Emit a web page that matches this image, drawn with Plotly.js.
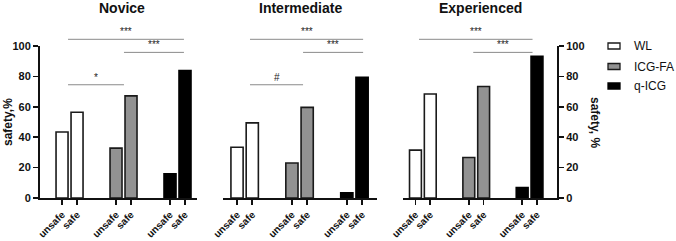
<!DOCTYPE html>
<html>
<head>
<meta charset="utf-8">
<script src="https://cdn.plot.ly/plotly-3.0.1.min.js"></script>
<style>html,body{margin:0;padding:0;background:#fff;}#chart{width:676px;height:241px;}</style>
</head>
<body>
<div id="chart"></div>
<script>
// ---- data ----
var panels = ['Novice', 'Intermediate', 'Experienced'];
var categories = ['unsafe', 'safe'];
var series = ['WL', 'ICG-FA', 'q-ICG'];

var noviceWL = [43.4, 56.4];
var noviceICGFA = [32.8, 67.2];
var noviceQICG = [16.0, 83.8];

var intermediateWL = [33.4, 49.4];
var intermediateICGFA = [23.0, 59.6];
var intermediateQICG = [3.5, 79.4];

var experiencedWL = [31.5, 68.4];
var experiencedICGFA = [26.6, 73.4];
var experiencedQICG = [6.8, 93.3];

var yTicks = [0, 20, 40, 60, 80, 100];
var sigLabelsNovice = ['***', '***', '*'];
var sigLabelsIntermediate = ['***', '***', '#'];
var sigLabelsExperienced = ['***', '***'];

// ---- layout helpers ----
var W = 676, H = 241;
var yBot = (H - 198) / H, yTop = (H - 46) / H;
var groupPos = [[0, 1], [3.6, 4.6], [7.2, 8.2]];
var barW = 0.8;
var seriesData = [
  [noviceWL, noviceICGFA, noviceQICG],
  [intermediateWL, intermediateICGFA, intermediateQICG],
  [experiencedWL, experiencedICGFA, experiencedQICG]
];
var fills = ['#ffffff', '#929292', '#000000'];
var lineCols = ['#1a1a1a', '#1a1a1a', '#000000'];
var xDomains = [[40 / W, 197 / W], [223 / W, 377 / W], [403 / W, 557 / W]];
var xRanges = [[-1.47, 9.0], [-0.92, 9.18], [-0.84, 9.55]];
var bracketLevels = [104.4, 95.8, 74.5];
var bracketSpans = [
  [[0.4, 8.13], [4.13, 8.13], [0.4, 4.13]],
  [[0.85, 8.27], [4.33, 8.27], [0.85, 4.33]],
  [[0.24, 7.9], [3.9, 7.9]]
];
var sigLabels = [sigLabelsNovice, sigLabelsIntermediate, sigLabelsExperienced];
var titleX = [121.7, 300.3, 480];
var font = 'Arial, "Liberation Sans", sans-serif';

var traces = [];
var xIds = ['x', 'x2', 'x3'];
var yIds = ['y', 'y', 'y2'];
for (var p = 0; p < 3; p++) {
  for (var s = 0; s < 3; s++) {
    traces.push({
      type: 'bar',
      name: series[s],
      showlegend: false,
      x: groupPos[s],
      y: seriesData[p][s],
      width: [barW, barW],
      xaxis: xIds[p],
      yaxis: yIds[p],
      marker: {color: fills[s], line: {color: lineCols[s], width: 1.6}},
      hoverinfo: 'skip'
    });
  }
}

var tickvals = [].concat(groupPos[0], groupPos[1], groupPos[2]);
var ticktext = [].concat(categories, categories, categories);

function xAxis(p, anchor) {
  return {
    domain: xDomains[p], range: xRanges[p], anchor: anchor,
    showgrid: false, zeroline: false, showline: true, linecolor: '#111', linewidth: 2,
    ticks: 'outside', ticklen: 5, tickwidth: 1.6, tickcolor: '#111',
    tickvals: tickvals, ticktext: ticktext, tickangle: -45,
    tickfont: {family: font, size: 10, color: '#111', weight: 'bold'},
    fixedrange: true
  };
}
function yAxis(anchor, side) {
  return {
    domain: [yBot, yTop], range: [0, 100], anchor: anchor, side: side,
    showgrid: false, zeroline: false, showline: true, linecolor: '#111', linewidth: 2,
    ticks: 'outside', ticklen: 5, tickwidth: 1.6, tickcolor: '#111',
    tickvals: yTicks, ticktext: yTicks.map(String),
    tickfont: {family: font, size: 11, color: '#111', weight: 'bold'},
    fixedrange: true
  };
}

function yPaper(v) { return yBot + (v / 100) * (yTop - yBot); }

var shapes = [], annotations = [];
for (var p = 0; p < 3; p++) {
  for (var b = 0; b < bracketSpans[p].length; b++) {
    var yy = yPaper(bracketLevels[b]);
    shapes.push({
      type: 'line', xref: xIds[p], yref: 'paper',
      x0: bracketSpans[p][b][0], x1: bracketSpans[p][b][1], y0: yy, y1: yy,
      line: {color: '#8a8a8a', width: 1}
    });
    annotations.push({
      xref: xIds[p], yref: 'paper',
      x: (bracketSpans[p][b][0] + bracketSpans[p][b][1]) / 2, y: yy,
      yanchor: 'bottom', xanchor: 'center', yshift: 0,
      text: sigLabels[p][b], showarrow: false,
      font: {family: font, size: 10, color: '#222'}
    });
  }
  annotations.push({
    xref: 'paper', yref: 'paper', x: titleX[p] / W, y: 1 - 8 / H,
    xanchor: 'center', yanchor: 'middle', showarrow: false,
    text: '<b>' + panels[p] + '</b>',
    font: {family: font, size: 14, color: '#111'}
  });
}
annotations.push({
  xref: 'paper', yref: 'paper', x: 8 / W, y: 1 - 122 / H,
  xanchor: 'center', yanchor: 'middle', showarrow: false, textangle: -90,
  text: '<b>safety,%</b>', font: {family: font, size: 12, color: '#111'}
});
annotations.push({
  xref: 'paper', yref: 'paper', x: 595 / W, y: 1 - 122 / H,
  xanchor: 'center', yanchor: 'middle', showarrow: false, textangle: 90,
  text: '<b>safety, %</b>', font: {family: font, size: 12, color: '#111'}
});

// custom legend (wide, short swatches)
var legendRowY = [46, 66.5, 86];
for (var s = 0; s < 3; s++) {
  var cy = legendRowY[s];
  shapes.push({
    type: 'rect', xref: 'paper', yref: 'paper',
    x0: 608 / W, x1: 620 / W, y0: 1 - (cy + 3) / H, y1: 1 - (cy - 3) / H,
    fillcolor: fills[s], line: {color: lineCols[s], width: 1.3}
  });
  annotations.push({
    xref: 'paper', yref: 'paper', x: 632 / W, y: 1 - cy / H,
    xanchor: 'left', yanchor: 'middle', showarrow: false,
    text: series[s], font: {family: font, size: 12, color: '#111'}
  });
}

var layout = {
  width: W, height: H,
  margin: {l: 0, r: 0, t: 0, b: 0},
  paper_bgcolor: '#fff', plot_bgcolor: '#fff',
  barmode: 'overlay',
  showlegend: false,
  xaxis: xAxis(0, 'y'),
  xaxis2: xAxis(1, 'y'),
  xaxis3: xAxis(2, 'y2'),
  yaxis: yAxis('x', 'left'),
  yaxis2: yAxis('x3', 'right'),
  shapes: shapes,
  annotations: annotations,
  font: {family: font}
};

Plotly.newPlot('chart', traces, layout, {displayModeBar: false, staticPlot: true});
</script>
</body>
</html>
